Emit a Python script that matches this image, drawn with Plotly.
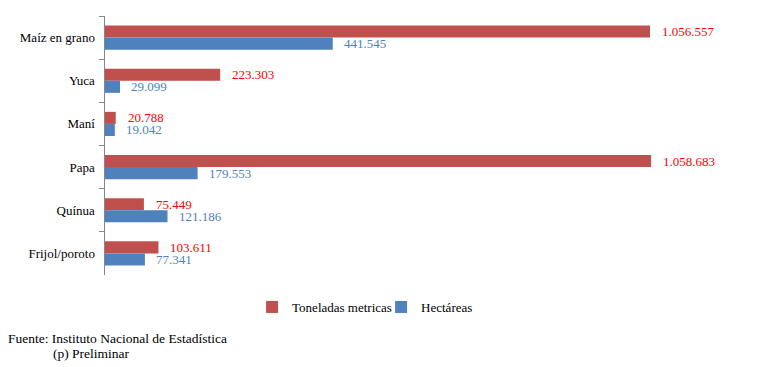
import plotly.graph_objects as go

categories = ["Maíz en grano", "Yuca", "Maní", "Papa", "Quínua", "Frijol/poroto"]
toneladas = [1056557, 223303, 20788, 1058683, 75449, 103611]
hectareas = [441545, 29099, 19042, 179553, 121186, 77341]

RED = "#C0504D"
BLUE = "#4F81BD"
FONT = "'Liberation Serif', 'Times New Roman', serif"

def fmt(v):
    return f"{v:,}".replace(",", ".")

fig = go.Figure()
fig.add_trace(go.Bar(y=categories, x=toneladas, orientation="h", name="Toneladas metricas",
                     marker=dict(color=RED, line=dict(width=0)), hoverinfo="x+y"))
fig.add_trace(go.Bar(y=categories, x=hectareas, orientation="h", name="Hectáreas",
                     marker=dict(color=BLUE, line=dict(width=0)), hoverinfo="x+y"))

ann = []
for c, t, h in zip(categories, toneladas, hectareas):
    ann.append(dict(x=t, y=c, xref="x", yref="y", text=fmt(t), showarrow=False,
                    xanchor="left", yanchor="middle", xshift=10, yshift=6,
                    font=dict(family=FONT, size=13, color="#FF0000")))
    ann.append(dict(x=h, y=c, xref="x", yref="y", text=fmt(h), showarrow=False,
                    xanchor="left", yanchor="middle", xshift=9, yshift=-6,
                    font=dict(family=FONT, size=13, color=BLUE)))

ann.append(dict(x=-0.16, y=-0.247, xref="paper", yref="paper", text="Fuente: Instituto Nacional de Estadística",
                showarrow=False, xanchor="left", yanchor="middle",
                font=dict(family=FONT, size=13.5, color="black")))
ann.append(dict(x=-0.0872, y=-0.305, xref="paper", yref="paper", text="(p) Preliminar",
                showarrow=False, xanchor="left", yanchor="middle",
                font=dict(family=FONT, size=13.5, color="black")))

fig.update_layout(
    width=763, height=367,
    margin=dict(l=105, r=39, t=16, b=92, autoexpand=False),
    paper_bgcolor="white", plot_bgcolor="white",
    barmode="group", bargap=0.44, bargroupgap=0,
    font=dict(family=FONT, size=13, color="black"),
    showlegend=True,
    legend=dict(orientation="h", x=0.446, xanchor="center", y=-0.1236, yanchor="middle",
                font=dict(family=FONT, size=13, color="black"), traceorder="normal",
                itemwidth=30, entrywidth=84, entrywidthmode="pixels"),
    annotations=ann,
    xaxis=dict(range=[0, 1200000], visible=False, showgrid=False, zeroline=False, automargin=False),
    yaxis=dict(autorange="reversed", showline=True, linecolor="#868686", linewidth=1,
               ticks="outside", ticklen=5, tickcolor="#868686", tickson="boundaries",
               showgrid=False, automargin=False, ticksuffix="  ",
               tickfont=dict(family=FONT, size=13, color="black")),
)

fig.write_html("out.html", config={"displayModeBar": False},
               post_script="document.body.style.margin='0';document.body.style.overflow='hidden';")
